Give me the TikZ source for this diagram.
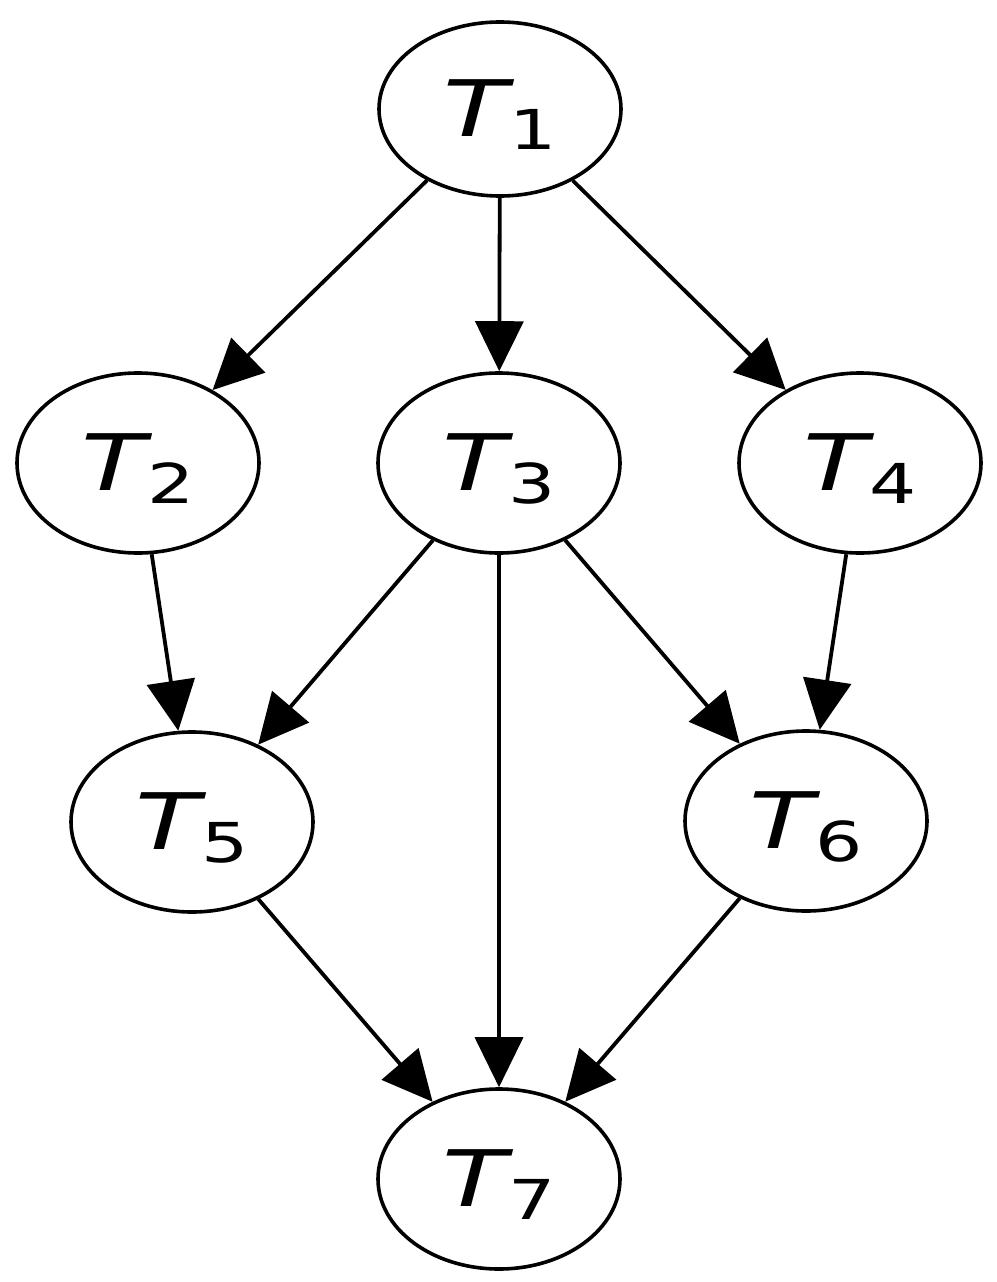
\documentclass[tikz,border=0pt]{standalone}
\usepackage{graphicx}
\usepackage{fontspec}
\setmainfont{DejaVu Sans}
\usetikzlibrary{shapes.geometric,arrows.meta}
\newcommand{\tlab}[1]{\scalebox{1.35}[1]{\fontsize{78}{80}\selectfont\textit{T}\kern-4pt\raisebox{-13pt}{\fontsize{55}{56}\selectfont #1}}}
\begin{document}
\begin{tikzpicture}[x=1pt,y=-1pt,
  task/.style={draw, line width=3.6pt, ellipse, minimum width=242pt, minimum height=180pt, inner sep=0pt, text height=80pt, text depth=26pt},
  edge/.style={line width=3.8pt, -{Triangle[length=50pt,width=48pt]}}]
\path[use as bounding box] (0,0) rectangle (996,1282);
\node[task, minimum height=174pt] (t1) at (500,109) {\tlab{1}};
\node[task] (t2) at (138,463) {\tlab{2}};
\node[task] (t3) at (499,463) {\tlab{3}};
\node[task] (t4) at (860,463) {\tlab{4}};
\node[task] (t5) at (192,822) {\tlab{5}};
\node[task] (t6) at (806,821) {\tlab{6}};
\node[task] (t7) at (499,1179) {\tlab{7}};
\draw[edge] (t1) -- (t2);
\draw[edge] (t1) -- (t3);
\draw[edge] (t1) -- (t4);
\draw[edge] (t2) -- (t5);
\draw[edge] (t3) -- (t5);
\draw[edge] (t3) -- (t7);
\draw[edge] (t3) -- (t6);
\draw[edge] (t4) -- (t6);
\draw[edge] (t5) -- (t7);
\draw[edge] (t6) -- (t7);
\end{tikzpicture}
\end{document}
